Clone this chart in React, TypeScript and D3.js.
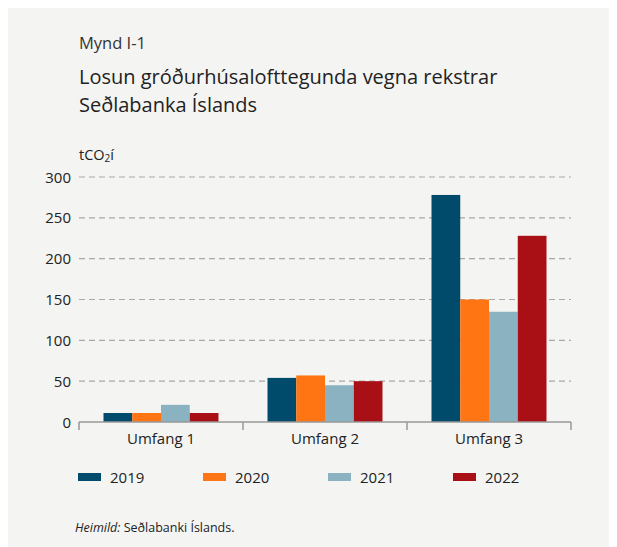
import React from 'react';
import * as d3 from 'd3';

const categories = ['Umfang 1', 'Umfang 2', 'Umfang 3'];
const years = ['2019', '2020', '2021', '2022'];
const values2019 = [11, 54, 278];
const values2020 = [11, 57, 150];
const values2021 = [21, 45, 135];
const values2022 = [11, 50, 228];
const yTicks = [0, 50, 100, 150, 200, 250, 300];

const series = [values2019, values2020, values2021, values2022];
const colors = ['#004b6b', '#ff7514', '#8ab2c1', '#a81015'];

const App: React.FC = () => {
  const width = 609;
  const height = 539;
  const font = "'Open Sans', 'Noto Sans', sans-serif";

  const x = d3.scaleBand<string>().domain(categories).range([71, 563]).padding(0);
  const inner = d3
    .scaleBand<string>()
    .domain(years)
    .range([24.5, x.bandwidth() - 24.5])
    .padding(0);
  const y = d3.scaleLinear().domain([0, 300]).range([414, 169]);

  return (
    <div style={{ width, height, background: '#f4f4f2' }}>
      <svg width={width} height={height} style={{ fontFamily: font, display: 'block' }}>
        <text x={71} y={41} fontSize={16.5} fill="#333">Mynd I-1</text>
        <text x={71} y={76} fontSize={20} fill="#222">Losun gróðurhúsalofttegunda vegna rekstrar</text>
        <text x={71} y={104} fontSize={20} fill="#222">Seðlabanka Íslands</text>

        <text x={71} y={152} fontSize={14.5} fill="#222">
          tCO<tspan fontSize={10} dy={2}>2</tspan><tspan dy={-2}>í</tspan>
        </text>

        {yTicks.map((t) => (
          <g key={t}>
            {t > 0 && (
              <line x1={71} x2={563} y1={y(t)} y2={y(t)} stroke="#a8a8a8" strokeWidth={1.2} strokeDasharray="6,4" />
            )}
            <text x={63} y={y(t) + 5.5} fontSize={15} textAnchor="end" fill="#222">{t}</text>
          </g>
        ))}

        {categories.map((c, ci) => (
          <g key={c} transform={`translate(${x(c)},0)`}>
            {series.map((vals, si) => (
              <rect
                key={si}
                x={inner(years[si])}
                width={inner.bandwidth()}
                y={y(vals[ci])}
                height={y(0) - y(vals[ci])}
                fill={colors[si]}
              />
            ))}
            <text x={x.bandwidth() / 2} y={436} fontSize={15} textAnchor="middle" fill="#222">{c}</text>
          </g>
        ))}

        <line x1={71} x2={563} y1={y(0)} y2={y(0)} stroke="#999" strokeWidth={1.5} />
        {[...categories.map((c) => x(c) as number), 563].map((px, i) => (
          <line key={i} x1={px} x2={px} y1={y(0)} y2={y(0) + 8} stroke="#999" strokeWidth={1.5} />
        ))}

        {years.map((yr, i) => (
          <g key={yr} transform={`translate(${70 + i * 125},465)`}>
            <rect x={0} y={0} width={23} height={8} fill={colors[i]} />
            <text x={32} y={10} fontSize={15} fill="#222">{yr}</text>
          </g>
        ))}

        <text x={67} y={524} fontSize={12.5} fill="#222">
          <tspan fontStyle="italic">Heimild:</tspan> Seðlabanki Íslands.
        </text>
      </svg>
    </div>
  );
};

export default App;
